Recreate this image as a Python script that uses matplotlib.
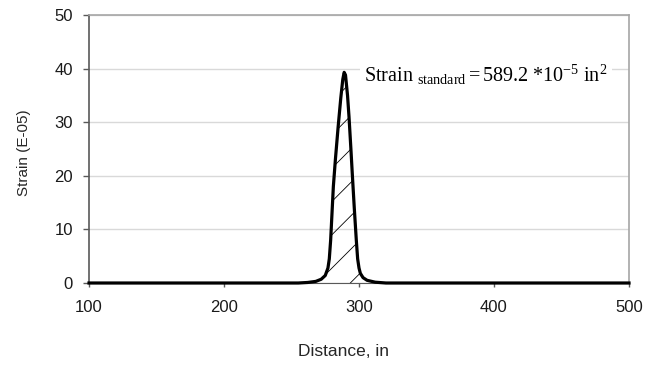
import matplotlib
matplotlib.use('Agg')
import matplotlib.pyplot as plt

# Strain profile
DISTANCE = [100, 200, 255, 262, 268, 272, 275, 277, 278, 279, 280, 281,
            282.5, 284.5, 286.5, 288, 289, 290, 291.5, 292.6, 294, 295,
            296.5, 298, 299, 300, 301, 303, 306, 312, 320, 400, 500]
STRAIN = [0, 0, 0, 0.1, 0.3, 0.7, 1.4, 2.8, 4.5, 8, 13, 18,
          23, 29, 34.5, 38, 39.3, 38.8, 35, 31, 25, 20.5,
          14, 8, 4.5, 2.8, 1.8, 1.0, 0.5, 0.15, 0, 0, 0]
HATCH_RANGE = (274, 303)
X_TICKS = [100, 200, 300, 400, 500]
Y_TICKS = [0, 10, 20, 30, 40, 50]

plt.rcParams['font.family'] = ['Liberation Sans', 'DejaVu Sans']
plt.rcParams['mathtext.fontset'] = 'custom'
plt.rcParams['mathtext.rm'] = 'Liberation Serif'
plt.rcParams['mathtext.it'] = 'Liberation Serif:italic'
plt.rcParams['hatch.linewidth'] = 0.6

fig = plt.figure(figsize=(6.58, 3.65), dpi=100)
ax = fig.add_axes([89 / 658, 1 - 283 / 365, 540 / 658, 268 / 365])

ax.set_xlim(100, 500)
ax.set_ylim(0, 50)
ax.set_xticks(X_TICKS)
ax.set_yticks(Y_TICKS)
ax.grid(axis='y', color='#d9d9d9', linewidth=1.0)
ax.set_axisbelow(True)

# hatched area under the peak
xs = [x for x in DISTANCE if HATCH_RANGE[0] <= x <= HATCH_RANGE[1]]
ys = [s for x, s in zip(DISTANCE, STRAIN) if HATCH_RANGE[0] <= x <= HATCH_RANGE[1]]
ax.fill_between(xs, 0, ys, facecolor='none', edgecolor='black', hatch='/',
                linewidth=0, zorder=2)

ax.plot(DISTANCE, STRAIN, color='black', linewidth=2.3, zorder=3,
        solid_joinstyle='round', clip_on=False)

for side in ['top', 'right']:
    ax.spines[side].set_color('#a6a6a6')
    ax.spines[side].set_linewidth(1.2)
ax.spines['left'].set_color('#595959')
ax.spines['left'].set_linewidth(1.2)
ax.spines['bottom'].set_color('#595959')

ax.tick_params(axis='y', direction='out', length=4, width=1, color='#595959',
               labelsize=12, pad=7.5, labelcolor='#1a1a1a')
ax.tick_params(axis='x', direction='out', length=3, width=1, color='#595959',
               labelsize=12, pad=9.5, labelcolor='#1a1a1a')

fig.text(24 / 658, 1 - 153 / 365, 'Strain (E-05)', rotation=90, ha='center',
         va='center', fontsize=11, color='#262626')
fig.text(343 / 658, 1 - 352 / 365, 'Distance, in', ha='center', va='center',
         fontsize=12.5, color='#262626')

ax.text(304, 38.8,
        r'$\mathrm{Strain}\ _{\mathrm{standard}}\mathrm{= 589.2\ {*}10^{-5}\ in^2}$',
        fontsize=14.5, color='black', ha='left', va='center', zorder=4,
        bbox=dict(facecolor='white', edgecolor='none', pad=3))

fig.savefig('out.png', dpi=100)
